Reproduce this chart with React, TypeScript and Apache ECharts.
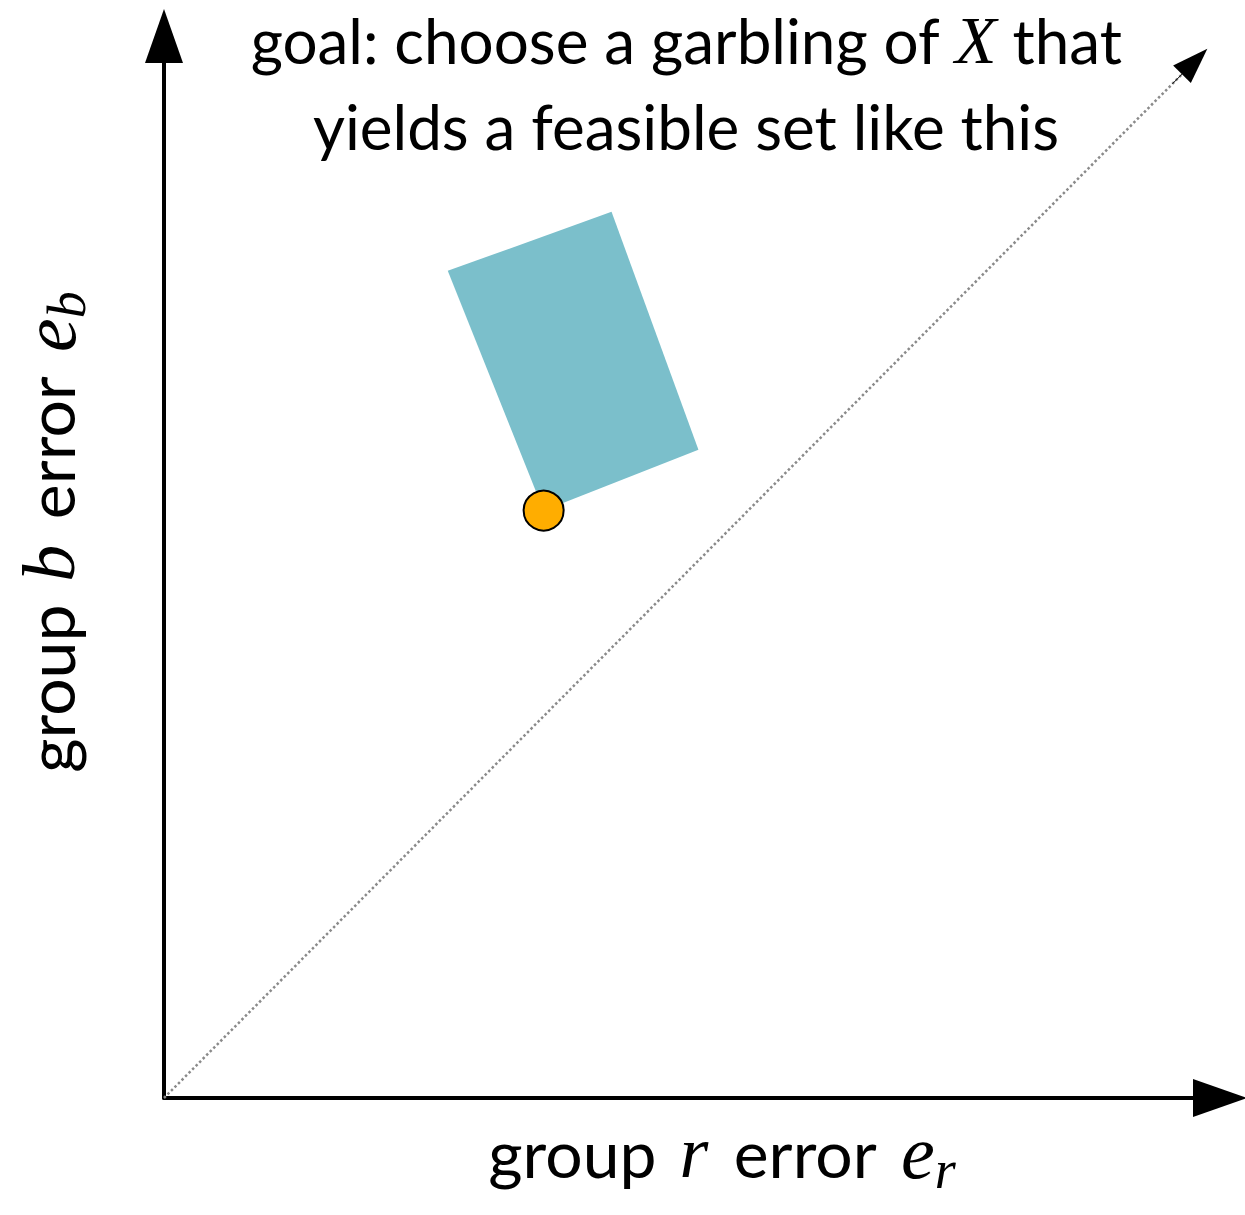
import React, { useEffect, useRef } from "react";
import * as echarts from "echarts";

// Corners of the feasible set (error of group r, error of group b)
const feasibleSetX = [0.2687, 0.4238, 0.5061, 0.3595];
const feasibleSetY = [0.7789, 0.8344, 0.6105, 0.5531];

// The chosen operating point at the lower corner of the set
const pointX = [0.3595];
const pointY = [0.5531];

// Equal-error diagonal e_r = e_b, ending in an arrowhead
const diagonalStart = [0, 0];
const diagonalEnd = [0.976, 0.976];
const arrowBase = [0.955, 0.955];

const axisRange = [0, 1];

const titleLines = ["goal: choose a garbling of {it|X} that", "yields a feasible set like this"];
const xName = "group {iv|r} error {ite|e}{sub|r}";
const yName = "group {iv|b} error {ite|e}{sub|b}";

const SANS = "Lato";
const SERIF = "Liberation Serif";
const FONT_SIZE = 62;
const NAME_SIZE = 66;

const richStyles = {
  it: { fontFamily: SERIF, fontStyle: "italic", fontSize: 68, color: "#000" },
  iv: { fontFamily: SERIF, fontStyle: "italic", fontSize: 74, color: "#000", padding: [0, 8, 0, 6] },
  ite: { fontFamily: SERIF, fontStyle: "italic", fontSize: 76, color: "#000", padding: [0, 0, 0, 8] },
  sub: { fontFamily: SERIF, fontStyle: "italic", fontSize: 54, color: "#000", padding: [36, 0, 0, 0] },
};

export default function App() {
  const ref = useRef<HTMLDivElement>(null);

  useEffect(() => {
    if (!ref.current) return;
    const chart = echarts.init(ref.current, undefined, { renderer: "svg" });

    const polygonData = feasibleSetX.map((x, i) => [x, feasibleSetY[i]]);
    const pointData = pointX.map((x, i) => [x, pointY[i]]);

    const axisCommon = {
      type: "value" as const,
      min: axisRange[0],
      max: axisRange[1],
      splitLine: { show: false },
      axisTick: { show: false },
      axisLabel: { show: false },
      axisLine: {
        show: true,
        symbol: ["none", "triangle"],
        symbolSize: [38, 54],
        lineStyle: { color: "#000", width: 4 },
      },
    };

    chart.setOption({
      animation: false,
      backgroundColor: "#fff",
      title: {
        text: titleLines.join("\n"),
        left: 681,
        top: -8,
        textAlign: "center",
        textStyle: {
          fontFamily: SANS,
          fontSize: FONT_SIZE,
          fontWeight: "normal",
          color: "#000",
          lineHeight: 86,
          rich: richStyles,
        },
      },
      grid: {
        left: 164,
        right: 25,
        top: 36,
        bottom: 117,
        containLabel: false,
        outerBoundsMode: "none",
      },
      xAxis: {
        ...axisCommon,
        name: xName,
        nameLocation: "middle",
        nameGap: 9,
        nameTextStyle: {
          fontFamily: SANS,
          fontSize: NAME_SIZE,
          color: "#000",
          padding: [0, 0, 0, 60],
          rich: richStyles,
        },
      },
      yAxis: {
        ...axisCommon,
        name: yName,
        nameLocation: "middle",
        nameGap: 70,
        nameRotate: 90,
        nameTextStyle: {
          fontFamily: SANS,
          fontSize: NAME_SIZE,
          color: "#000",
          padding: [0, 0, 0, 70],
          rich: richStyles,
        },
      },
      series: [
        {
          type: "line",
          data: [],
          markLine: {
            silent: true,
            symbol: ["none", "none"],
            label: { show: false },
            lineStyle: { type: "dotted", color: "#8a8a8a", width: 2.5 },
            data: [[{ coord: diagonalStart }, { coord: diagonalEnd }]],
          },
        },
        {
          type: "line",
          data: [],
          markLine: {
            silent: true,
            symbol: ["none", "triangle"],
            symbolSize: [25, 36],
            label: { show: false },
            lineStyle: { type: "solid", color: "#000", width: 1 },
            data: [[{ coord: arrowBase }, { coord: diagonalEnd }]],
          },
        },
        {
          type: "custom",
          data: polygonData,
          renderItem: (params: any, api: any) => {
            if (params.dataIndex !== 0) return null;
            const pts = polygonData.map((p) => api.coord(p));
            return {
              type: "polygon",
              shape: { points: pts },
              style: { fill: "#7bbfcb" },
            };
          },
          silent: true,
          z: 2,
        },
        {
          type: "scatter",
          data: pointData,
          symbol: "circle",
          symbolSize: 40,
          itemStyle: { color: "#ffad00", opacity: 1, borderColor: "#000", borderWidth: 2 },
          silent: true,
          z: 5,
        },
      ],
    });

    return () => chart.dispose();
  }, []);

  return (
    <div
      ref={ref}
      style={{ position: "fixed", left: 0, top: 0, width: 1245, height: 1215, background: "#fff" }}
    />
  );
}
